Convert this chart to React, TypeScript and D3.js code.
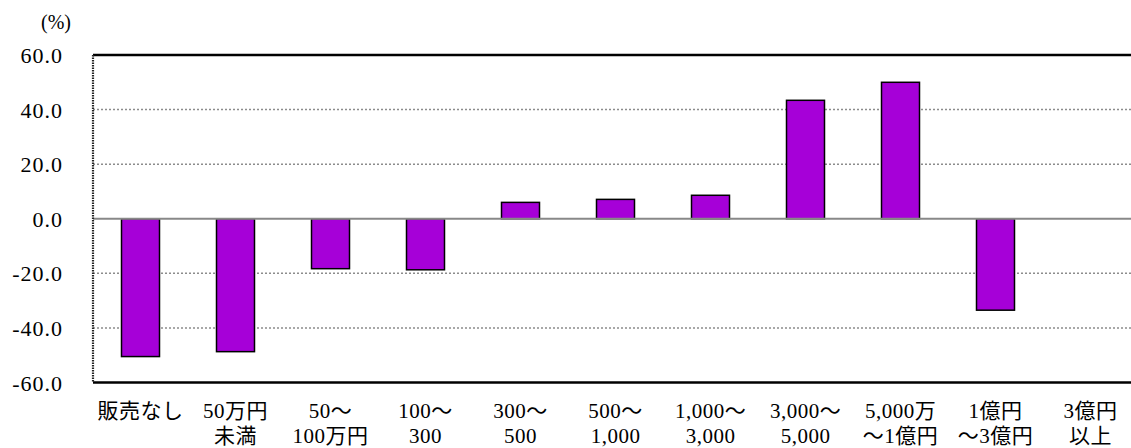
import React from "react";
import * as d3 from "d3";

const categories: string[][] = [
  ["販売なし"],
  ["50万円", "未満"],
  ["50～", "100万円"],
  ["100～", "300"],
  ["300～", "500"],
  ["500～", "1,000"],
  ["1,000～", "3,000"],
  ["3,000～", "5,000"],
  ["5,000万", "～1億円"],
  ["1億円", "～3億円"],
  ["3億円", "以上"],
];
const values: (number | null)[] = [-50.5, -48.7, -18.3, -18.7, 6.0, 7.1, 8.6, 43.4, 50.0, -33.5, null];
const yTicks: number[] = [60, 40, 20, 0, -20, -40, -60];

const W = 1131;
const H = 448;
const left = 93;
const top = 55;
const bottom = 382.5;
const plotW = 1045;

export default function App() {
  const keys = categories.map((_, i) => String(i));
  const x = d3.scaleBand<string>().domain(keys).range([left, left + plotW]).paddingInner(0.6).paddingOuter(0.3);
  const y = d3.scaleLinear().domain([-60, 60]).range([bottom, top]);
  const font = "Liberation Serif, Noto Sans CJK JP, serif";
  return (
    <svg width={W} height={H} style={{ position: "absolute", left: 0, top: 0, background: "#fff", fontFamily: font }}>
      <text x={56} y={29} fontSize={20} textAnchor="middle" fill="#000" style={{ fontFamily: font }}>(%)</text>
      {yTicks.map((t) => (
        <text key={"yl" + t} x={63} y={y(t) + 8} fontSize={22} letterSpacing={1} textAnchor="end" fill="#000" style={{ fontFamily: font }}>
          {t.toFixed(1)}
        </text>
      ))}
      {yTicks.filter((t) => t !== 0 && Math.abs(t) !== 60).map((t) => (
        <line key={"g" + t} x1={left} x2={left + plotW} y1={y(t)} y2={y(t)} stroke="#8c8c8c" strokeWidth={1.5} strokeDasharray="2 2" />
      ))}
      {values.map((v, i) => {
        if (v === null) return null;
        const x0 = x(String(i))!;
        const y0 = y(Math.max(0, v));
        const h = Math.abs(y(v) - y(0));
        return (
          <rect key={"b" + i} x={x0} y={y0} width={x.bandwidth()} height={h} fill="#A600D8" stroke="#000" strokeWidth={1.5} />
        );
      })}
      <line x1={left} x2={left + plotW} y1={y(0)} y2={y(0)} stroke="#888" strokeWidth={1.8} />
      <line x1={left} x2={left + plotW} y1={top} y2={top} stroke="#000" strokeWidth={2.5} />
      <line x1={left} x2={left + plotW} y1={bottom} y2={bottom} stroke="#000" strokeWidth={2.5} />
      <line x1={left} x2={left} y1={top} y2={bottom} stroke="#222" strokeWidth={2.2} strokeDasharray="1.5 1" />
      {categories.map((lines, i) => {
        const cx = x(String(i))! + x.bandwidth() / 2;
        return (
          <text key={"c" + i} x={cx} y={418} fontSize={21} letterSpacing={0.5} textAnchor="middle" fill="#000" style={{ fontFamily: font }}>
            {lines.map((l, j) => (
              <tspan key={j} x={cx} dy={j === 0 ? 0 : 25}>{l}</tspan>
            ))}
          </text>
        );
      })}
    </svg>
  );
}
